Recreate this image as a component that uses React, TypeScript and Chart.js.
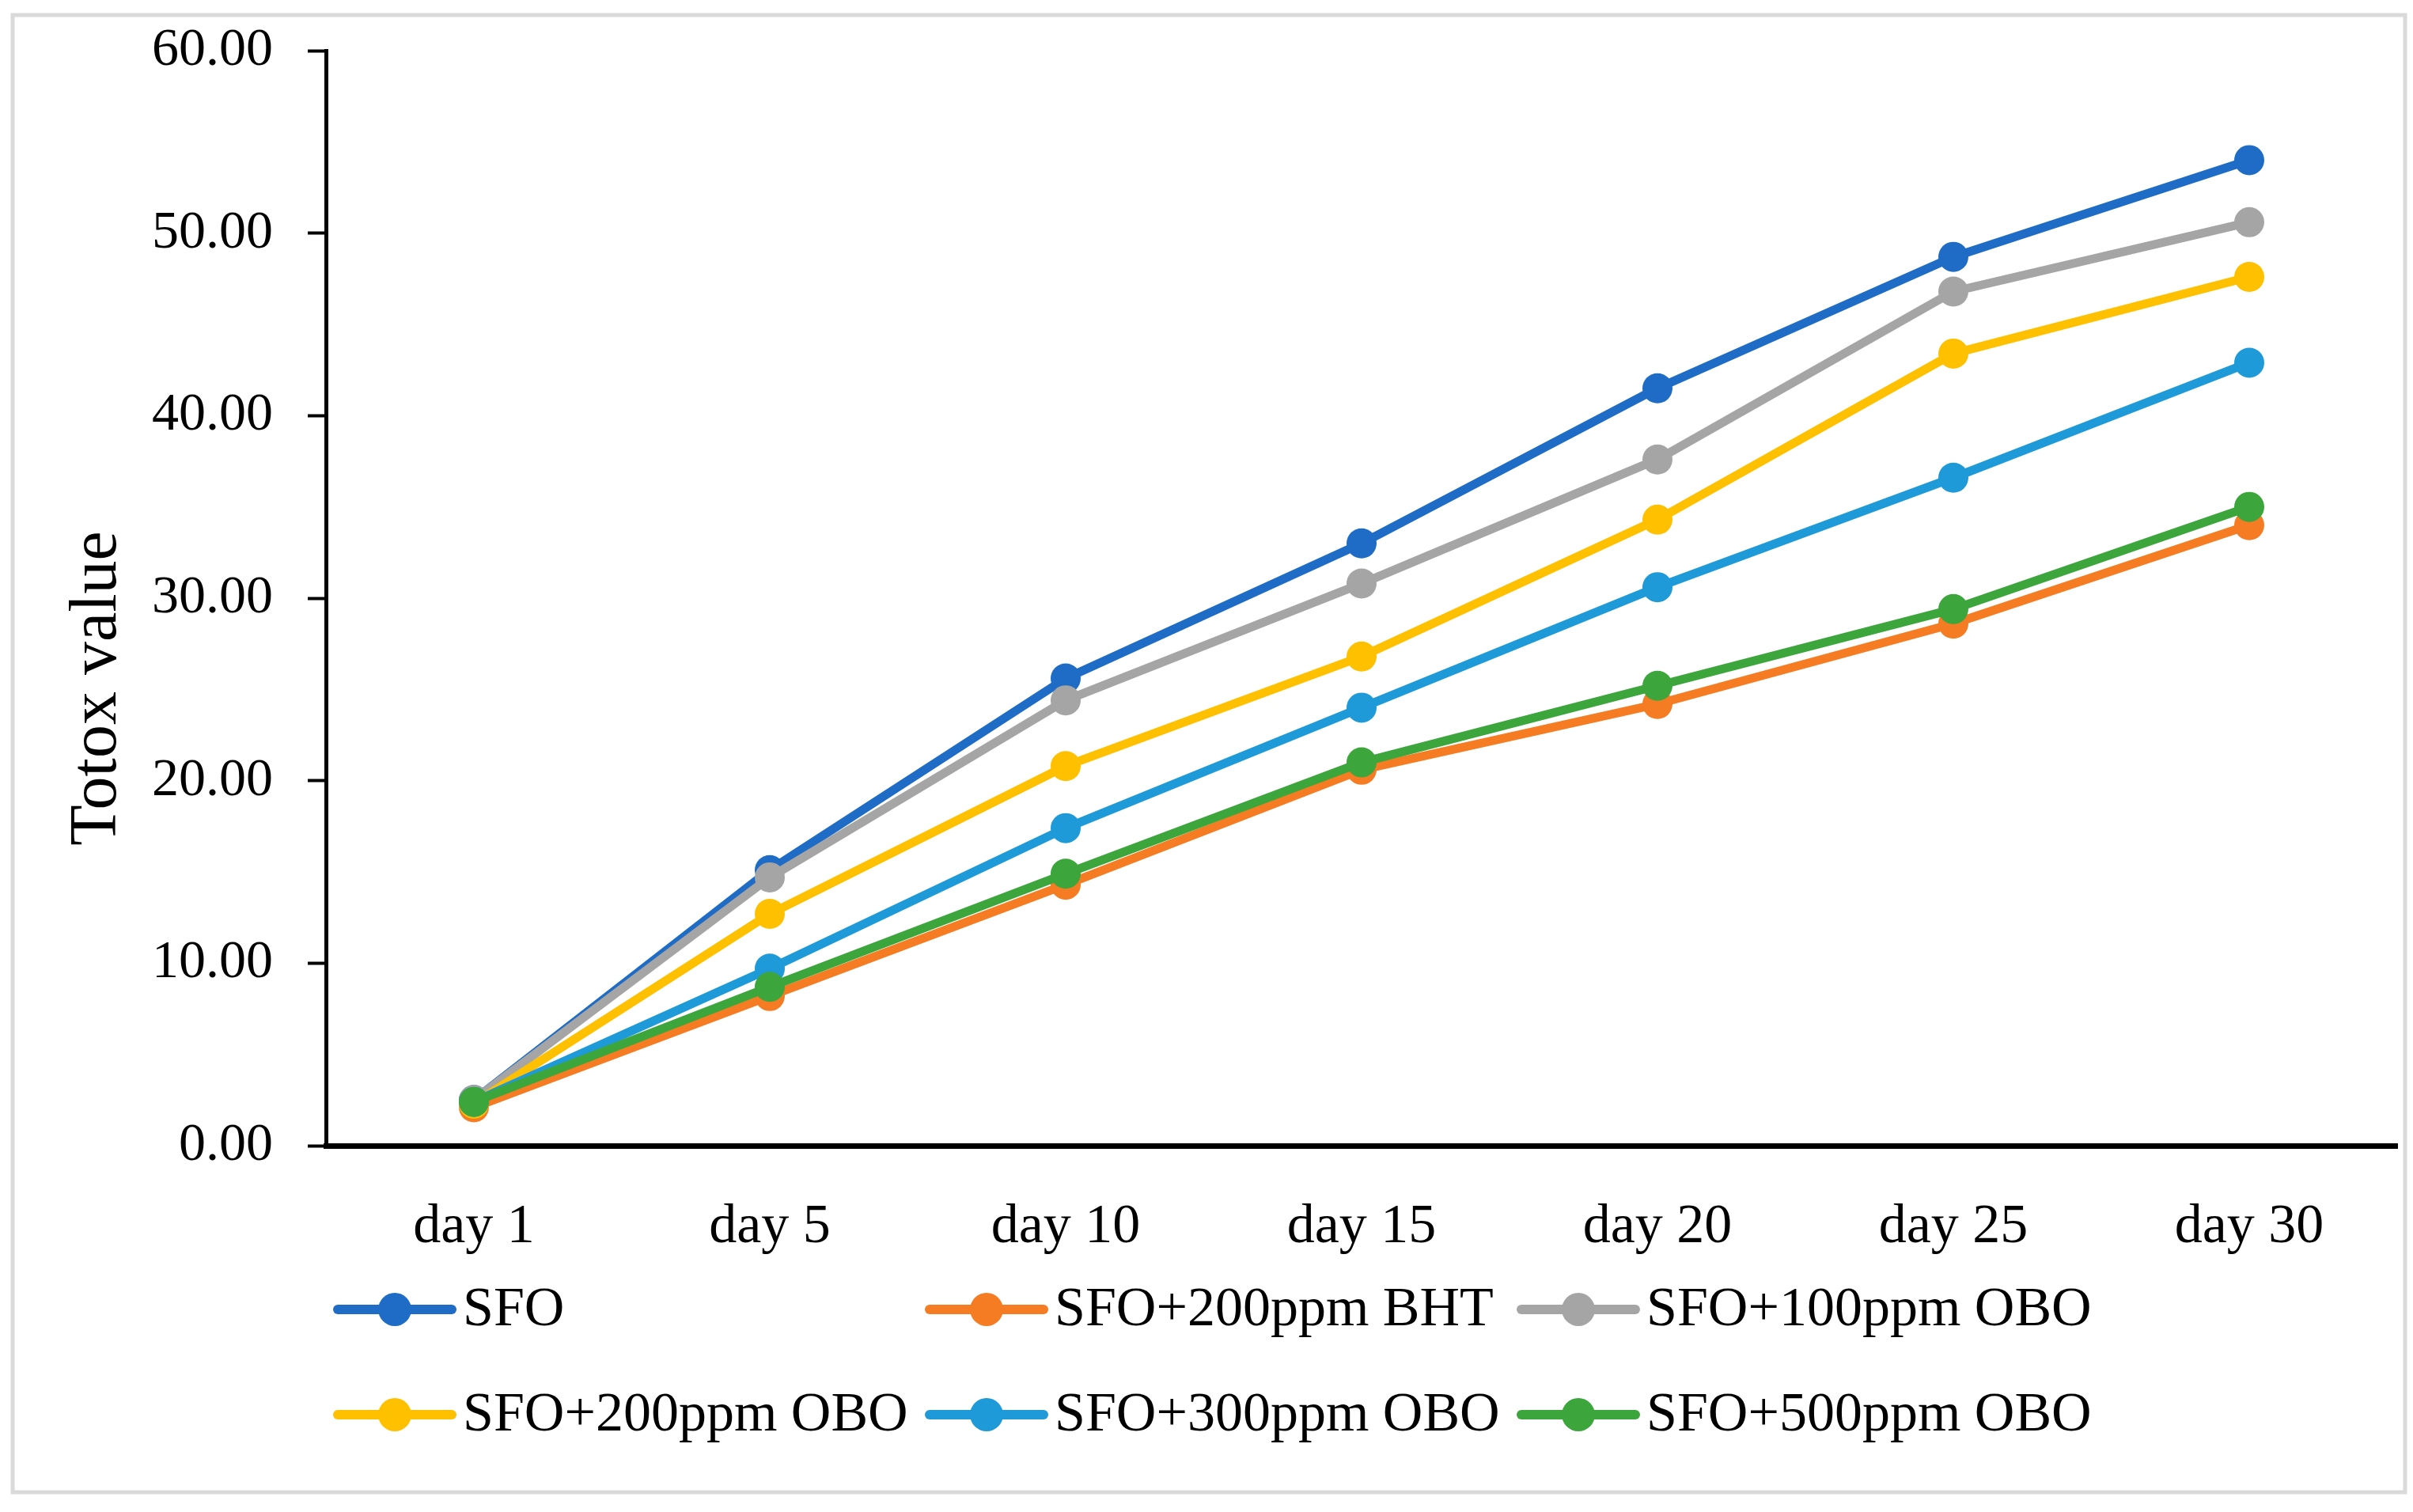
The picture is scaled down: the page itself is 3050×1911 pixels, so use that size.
import React, { useEffect, useRef } from "react";
import { Chart, registerables } from "chart.js";

Chart.register(...registerables);

const categories = ["day 1", "day 5", "day 10", "day 15", "day 20", "day 25", "day 30"];

const seriesNames = [
  "SFO",
  "SFO+200ppm BHT",
  "SFO+100ppm OBO",
  "SFO+200ppm OBO",
  "SFO+300ppm OBO",
  "SFO+500ppm OBO",
];

const sfo = [2.5, 15.1, 25.6, 33.0, 41.5, 48.7, 54.0];
const sfoBht200 = [2.1, 8.2, 14.3, 20.6, 24.2, 28.6, 34.0];
const sfoObo100 = [2.5, 14.7, 24.4, 30.8, 37.6, 46.8, 50.6];
const sfoObo200 = [2.3, 12.7, 20.8, 26.8, 34.3, 43.4, 47.6];
const sfoObo300 = [2.4, 9.7, 17.4, 24.0, 30.6, 36.6, 42.9];
const sfoObo500 = [2.4, 8.7, 14.9, 21.0, 25.2, 29.4, 35.0];

const seriesValues = [sfo, sfoBht200, sfoObo100, sfoObo200, sfoObo300, sfoObo500];
const seriesColors = ["#1f6cc6", "#f57c22", "#a5a5a5", "#ffc000", "#1e9ad9", "#3ca63c"];

const yTicks = [0, 10, 20, 30, 40, 50, 60];
const yTitle = "Totox value";

const FONT = "'Liberation Serif', 'Times New Roman', serif";

export default function App() {
  const canvasRef = useRef<HTMLCanvasElement | null>(null);

  useEffect(() => {
    const canvas = canvasRef.current;
    if (!canvas) return;

    const framePlugin = {
      id: "frame",
      beforeDraw(chart: any) {
        const ctx = chart.ctx;
        ctx.save();
        ctx.fillStyle = "#ffffff";
        ctx.fillRect(0, 0, chart.width, chart.height);
        ctx.strokeStyle = "#d9d9d9";
        ctx.lineWidth = 5;
        ctx.strokeRect(16, 19, 3024, 1867);
        ctx.restore();
      },
    };

    const extrasPlugin = {
      id: "extras",
      afterDraw(chart: any) {
        const ctx = chart.ctx;
        ctx.save();
        // Y axis title
        ctx.fillStyle = "#000000";
        ctx.font = `84px ${FONT}`;
        ctx.translate(146, 870);
        ctx.rotate(-Math.PI / 2);
        ctx.textAlign = "center";
        ctx.textBaseline = "alphabetic";
        ctx.fillText(yTitle, 0, 0);
        ctx.restore();

        // Legend
        const colX = [499, 1247, 1995];
        const rowY = [1655, 1788];
        ctx.save();
        ctx.font = `70px ${FONT}`;
        ctx.textAlign = "left";
        ctx.textBaseline = "middle";
        chart.data.datasets.forEach((ds: any, i: number) => {
          const cx = colX[i % 3];
          const cy = rowY[Math.floor(i / 3)];
          ctx.strokeStyle = ds.borderColor;
          ctx.lineWidth = 12;
          ctx.lineCap = "round";
          ctx.beginPath();
          ctx.moveTo(cx - 72, cy);
          ctx.lineTo(cx + 72, cy);
          ctx.stroke();
          ctx.fillStyle = ds.borderColor;
          ctx.beginPath();
          ctx.arc(cx, cy, 21, 0, Math.PI * 2);
          ctx.fill();
          ctx.fillStyle = "#000000";
          ctx.fillText(ds.label, cx + 86, cy + 2);
        });
        ctx.restore();
      },
    };

    const chart = new Chart(canvas, {
      type: "line",
      data: {
        labels: categories,
        datasets: seriesNames.map((name, i) => ({
          label: name,
          data: seriesValues[i],
          borderColor: seriesColors[i],
          backgroundColor: seriesColors[i],
          pointBackgroundColor: seriesColors[i],
          pointBorderColor: seriesColors[i],
          pointBorderWidth: 0,
          pointRadius: 19,
          pointHoverRadius: 19,
          borderWidth: 11,
          tension: 0,
          fill: false,
          clip: false as any,
          borderJoinStyle: "round" as const,
          order: seriesNames.length - i,
        })),
      },
      options: {
        responsive: false,
        animation: false,
        devicePixelRatio: 1,
        layout: { autoPadding: false, padding: { top: 64, right: 20, bottom: 0, left: 0 } },
        plugins: {
          legend: { display: false },
          tooltip: { enabled: false },
          title: { display: false },
        },
        scales: {
          x: {
            type: "category",
            offset: true,
            grid: { display: false, drawTicks: false },
            border: { display: true, color: "#000000", width: 7 },
            ticks: {
              color: "#000000",
              font: { family: FONT, size: 70 },
              padding: 62,
              maxRotation: 0,
              autoSkip: false,
            },
            afterFit: (s: any) => {
              s.height = 1911 - 1448;
              s.paddingLeft = 0;
              s.paddingRight = 0;
            },
          },
          y: {
            min: 0,
            max: 60,
            afterBuildTicks: (s: any) => {
              s.ticks = yTicks.map((v) => ({ value: v }));
            },
            grid: {
              display: true,
              drawOnChartArea: false,
              drawTicks: true,
              tickLength: 23,
              tickWidth: 4,
              tickColor: "#000000",
            },
            border: { display: true, color: "#000000", width: 5 },
            ticks: {
              color: "#000000",
              font: { family: FONT, size: 68 },
              padding: 44,
              callback: (v: any) => Number(v).toFixed(2),
            },
            afterFit: (s: any) => {
              s.width = 412;
              s.paddingTop = 0;
              s.paddingBottom = 0;
            },
          },
        },
      },
      plugins: [framePlugin, extrasPlugin],
    });

    return () => {
      chart.destroy();
    };
  }, []);

  return (
    <div style={{ position: "absolute", left: 0, top: 0, width: 3050, height: 1911, background: "#fff" }}>
      <canvas ref={canvasRef} width={3050} height={1911} style={{ width: 3050, height: 1911, display: "block" }} />
    </div>
  );
}
